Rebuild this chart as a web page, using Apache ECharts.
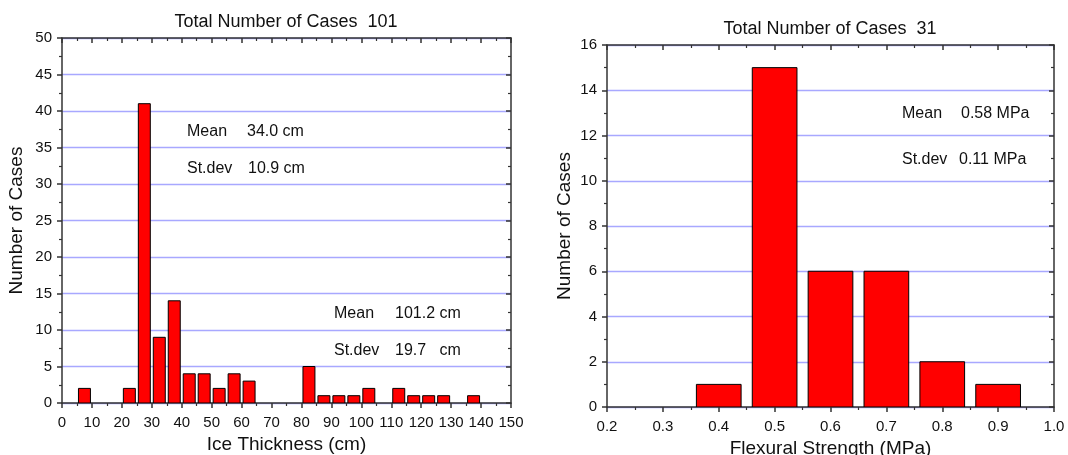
<!DOCTYPE html>
<html>
<head>
<meta charset="utf-8">
<script src="https://cdn.jsdelivr.net/npm/echarts@6/dist/echarts.min.js"></script>
<style>html,body{margin:0;padding:0;background:#fff}#c{width:1068px;height:455px}</style>
</head>
<body>
<div id="c"></div>
<script>
// Left histogram: ice thickness bin centres (cm) and counts
const iceCenters = [7.5, 22.5, 27.5, 32.5, 37.5, 42.5, 47.5, 52.5, 57.5, 62.5, 82.5, 87.5, 92.5, 97.5, 102.5, 112.5, 117.5, 122.5, 127.5, 137.5];
const iceCounts  = [2,   2,    41,   9,    14,   4,    4,    2,    4,    3,    5,    1,    1,    1,    2,     2,     1,     1,     1,     1];
// Right histogram: flexural strength bin centres (MPa) and counts
const flexCenters = [0.4, 0.5, 0.6, 0.7, 0.8, 0.9];
const flexCounts  = [1,   15,  6,   6,   2,   1];

const leftTitle = 'Total Number of Cases  101';
const rightTitle = 'Total Number of Cases  31';
const leftStats = [['Mean', '34.0 cm'], ['St.dev', '10.9 cm'], ['Mean', '101.2 cm'], ['St.dev', '19.7   cm']];
const rightStats = [['Mean', '0.58 MPa'], ['St.dev', '0.11 MPa']];

const FONT = 'Liberation Sans, Arial, sans-serif';
const AX = '#333';
const GRIDC = '#a8a8ff';
const LBL = 15, NAME = 19, TTL = 18, STAT = 16;

function bars(halfWidth) {
  return function (params, api) {
    const x = api.value(0), y = api.value(1);
    const p0 = api.coord([x - halfWidth, 0]);
    const p1 = api.coord([x + halfWidth, y]);
    return {
      type: 'rect',
      shape: { x: p0[0], y: p1[1], width: p1[0] - p0[0], height: p0[1] - p1[1] },
      style: { fill: '#ff0000', stroke: '#000', lineWidth: 1 }
    };
  };
}

function xAxisMain(gi, min, max, interval, name, nameGap, fmt) {
  return {
    type: 'value', gridIndex: gi, min, max, interval, position: 'bottom',
    name, nameLocation: 'middle', nameGap,
    nameTextStyle: { fontFamily: FONT, fontSize: NAME, color: '#111' },
    axisLine: { show: true, onZero: false, lineStyle: { color: AX, width: 1.5 } },
    axisTick: { show: true, inside: false, length: 5, lineStyle: { color: AX, width: 1.5 } },
    minorTick: { show: true, splitNumber: 2, length: 3, lineStyle: { color: AX, width: 1.2 } },
    axisLabel: { fontFamily: FONT, fontSize: LBL, color: '#111', margin: 12, formatter: fmt },
    splitLine: { show: false }
  };
}
function xAxisMirror(gi, min, max, interval) {
  return {
    type: 'value', gridIndex: gi, min, max, interval, position: 'top',
    axisLine: { show: true, onZero: false, lineStyle: { color: AX, width: 1.5 } },
    axisTick: { show: true, inside: true, length: 5, lineStyle: { color: AX, width: 1.5 } },
    minorTick: { show: true, splitNumber: 2, length: 3, lineStyle: { color: AX, width: 1.2 } },
    axisLabel: { show: false }, splitLine: { show: false }
  };
}
function yAxisMain(gi, max, interval, nameGap) {
  return {
    type: 'value', gridIndex: gi, min: 0, max, interval, position: 'left',
    name: 'Number of Cases', nameLocation: 'middle', nameGap,
    nameTextStyle: { fontFamily: FONT, fontSize: NAME, color: '#111' },
    axisLine: { show: true, onZero: false, lineStyle: { color: AX, width: 1.5 } },
    axisTick: { show: true, inside: false, length: 5, lineStyle: { color: AX, width: 1.5 } },
    minorTick: { show: true, splitNumber: 2, length: 3, lineStyle: { color: AX, width: 1.2 } },
    axisLabel: { fontFamily: FONT, fontSize: LBL, color: '#111', margin: 10 },
    splitLine: { show: true, lineStyle: { color: GRIDC, width: 1.3 } }
  };
}
function yAxisMirror(gi, max, interval) {
  return {
    type: 'value', gridIndex: gi, min: 0, max, interval, position: 'right',
    axisLine: { show: true, onZero: false, lineStyle: { color: AX, width: 1.5 } },
    axisTick: { show: true, inside: true, length: 5, lineStyle: { color: AX, width: 1.5 } },
    minorTick: { show: true, splitNumber: 2, length: 3, lineStyle: { color: AX, width: 1.2 } },
    axisLabel: { show: false }, splitLine: { show: false }
  };
}

function statText(left, top, label, value, gap) {
  return [
    { type: 'text', left, top, style: { text: label, fontFamily: FONT, fontSize: STAT, fill: '#111' } },
    { type: 'text', left: left + gap, top, style: { text: value, fontFamily: FONT, fontSize: STAT, fill: '#111' } }
  ];
}

const chart = echarts.init(document.getElementById('c'), null, { renderer: 'canvas' });
chart.setOption({
  animation: false,
  backgroundColor: '#fff',
  title: [
    { text: leftTitle, left: 286, top: 13, padding: 0, textAlign: 'center', textStyle: { fontFamily: FONT, fontSize: TTL, fontWeight: 'normal', color: '#111' } },
    { text: rightTitle, left: 830, top: 20, padding: 0, textAlign: 'center', textStyle: { fontFamily: FONT, fontSize: TTL, fontWeight: 'normal', color: '#111' } }
  ],
  grid: [
    { left: 62, top: 38, right: 557, bottom: 52, containLabel: false, outerBoundsMode: 'none' },
    { left: 607, top: 45, right: 14, bottom: 48, containLabel: false, outerBoundsMode: 'none' }
  ],
  xAxis: [
    xAxisMain(0, 0, 150, 10, 'Ice Thickness (cm)', 32),
    xAxisMirror(0, 0, 150, 10),
    xAxisMain(1, 0.2, 1.0, 0.1, 'Flexural Strength (MPa)', 26, v => v.toFixed(1)),
    xAxisMirror(1, 0.2, 1.0, 0.1)
  ],
  yAxis: [
    yAxisMain(0, 50, 5, 36),
    yAxisMirror(0, 50, 5),
    yAxisMain(1, 16, 2, 33),
    yAxisMirror(1, 16, 2)
  ],
  series: [
    { type: 'custom', xAxisIndex: 0, yAxisIndex: 0, renderItem: bars(2),
      data: iceCenters.map((c, i) => [c, iceCounts[i]]), clip: true },
    { type: 'custom', xAxisIndex: 2, yAxisIndex: 2, renderItem: bars(0.04),
      data: flexCenters.map((c, i) => [c, flexCounts[i]]), clip: true }
  ],
  graphic: [].concat(
    statText(187, 124, leftStats[0][0], leftStats[0][1], 60),
    statText(187, 161, leftStats[1][0], leftStats[1][1], 61),
    statText(334, 306, leftStats[2][0], leftStats[2][1], 61),
    statText(334, 343, leftStats[3][0], leftStats[3][1], 61),
    statText(902, 106, rightStats[0][0], rightStats[0][1], 59),
    statText(902, 152, rightStats[1][0], rightStats[1][1], 57)
  )
});
</script>
</body>
</html>
